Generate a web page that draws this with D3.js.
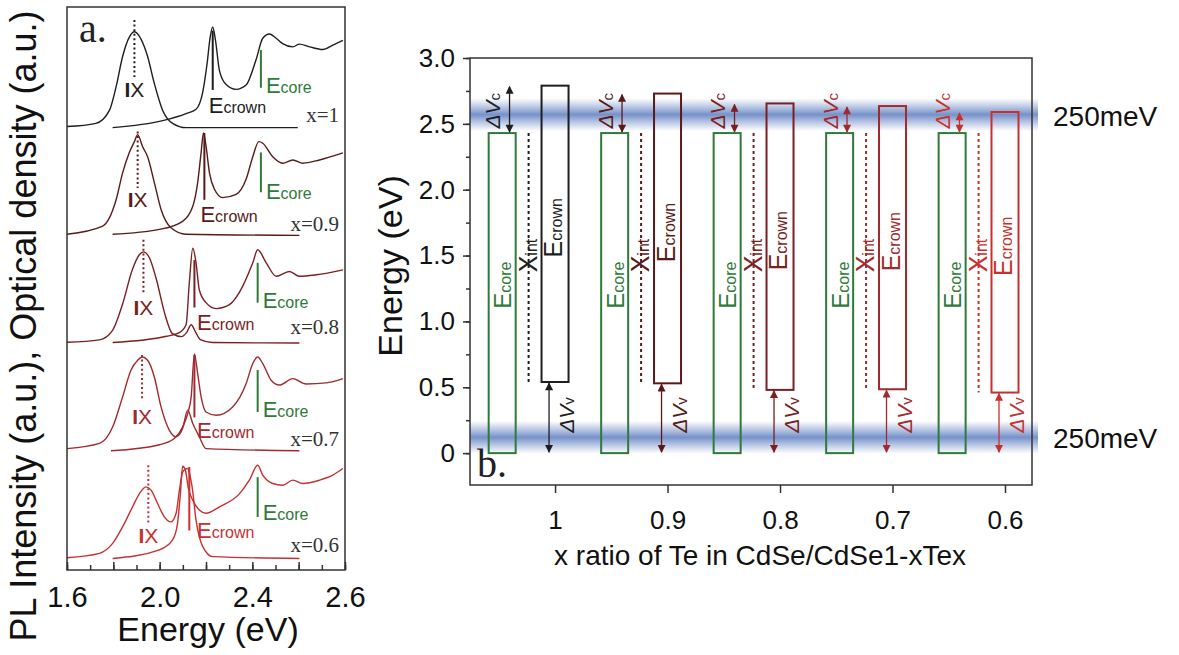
<!DOCTYPE html>
<html><head><meta charset="utf-8">
<script src="https://cdn.jsdelivr.net/npm/d3@7"></script>
<style>
body{margin:0;background:#fff}
svg{display:block}
text{font-family:"Liberation Sans",Arial,Helvetica,sans-serif}
.serif{font-family:"Liberation Serif","Times New Roman",serif}
</style>
</head><body>
<svg id="c" width="1179" height="655"></svg>
<script>
// ---------------- DATA ----------------
const xRatio = [1, 0.9, 0.8, 0.7, 0.6];
const sampleLabels = ["x=1", "x=0.9", "x=0.8", "x=0.7", "x=0.6"];
const groupColors = ["#1e1e1e", "#5a1a1a", "#7a1f22", "#a2292d", "#c8302f"];
const coreColor = "#2f7a38";

// Panel a: spectra [energy eV, intensity a.u.]
const energyTicksA = [1.6, 2.0, 2.4, 2.8];
const energyTickLabelsA = ["1.6", "2.0", "2.4", "2.6"];

const pl_1 = [[1.60,0.01],[1.725,0.04],[1.783,0.16],[1.812,0.38],[1.840,0.66],[1.869,0.84],[1.891,0.89],[1.920,0.82],[1.948,0.66],[1.977,0.41],[2.013,0.16],[2.056,0.04],[2.114,0.0],[2.596,0]];
const od_1 = [[1.797,0],[2.013,0.065],[2.114,0.13],[2.157,0.17],[2.185,0.32],[2.205,0.6],[2.218,0.84],[2.229,0.935],[2.241,0.81],[2.258,0.53],[2.287,0.40],[2.330,0.355],[2.373,0.395],[2.416,0.63],[2.445,0.83],[2.474,0.87],[2.503,0.83],[2.531,0.78],[2.575,0.75],[2.603,0.775],[2.647,0.75],[2.704,0.725],[2.747,0.765],[2.791,0.81]];

const pl_09 = [[1.60,0.01],[1.754,0.086],[1.812,0.33],[1.840,0.58],[1.869,0.77],[1.891,0.87],[1.905,0.935],[1.927,0.82],[1.948,0.73],[1.977,0.49],[2.006,0.24],[2.049,0.07],[2.114,0.01],[2.603,0]];
const od_09 = [[1.797,0.01],[1.999,0.055],[2.099,0.13],[2.143,0.27],[2.164,0.49],[2.179,0.77],[2.189,0.95],[2.200,0.83],[2.215,0.58],[2.236,0.43],[2.272,0.35],[2.330,0.38],[2.373,0.52],[2.402,0.73],[2.428,0.87],[2.445,0.855],[2.488,0.73],[2.531,0.67],[2.575,0.70],[2.618,0.67],[2.690,0.70],[2.791,0.765]];

const pl_08 = [[1.60,0.007],[1.740,0.03],[1.796,0.115],[1.839,0.356],[1.882,0.68],[1.912,0.82],[1.930,0.847],[1.956,0.79],[1.986,0.59],[2.021,0.28],[2.055,0.088],[2.094,0.06],[2.116,0.097],[2.136,0.17],[2.154,0.106],[2.176,0.032],[2.228,0.005],[2.603,0]];
const od_08 = [[1.797,0.005],[2.029,0.063],[2.085,0.097],[2.114,0.17],[2.128,0.56],[2.143,0.88],[2.157,0.745],[2.171,0.495],[2.200,0.375],[2.244,0.32],[2.301,0.356],[2.344,0.47],[2.402,0.745],[2.423,0.866],[2.460,0.745],[2.503,0.62],[2.560,0.665],[2.603,0.62],[2.676,0.634],[2.791,0.68]];

const pl_07 = [[1.60,0.02],[1.740,0.068],[1.797,0.22],[1.840,0.5],[1.876,0.747],[1.905,0.84],[1.924,0.87],[1.948,0.84],[1.977,0.685],[2.006,0.407],[2.042,0.19],[2.071,0.13],[2.099,0.206],[2.121,0.377],[2.143,0.253],[2.171,0.13],[2.200,0.02],[2.603,0]];
const od_07 = [[1.790,0],[1.999,0.056],[2.063,0.114],[2.099,0.22],[2.121,0.345],[2.136,0.5],[2.150,0.9],[2.164,0.716],[2.179,0.5],[2.200,0.36],[2.244,0.33],[2.315,0.407],[2.373,0.623],[2.402,0.81],[2.423,0.87],[2.445,0.81],[2.481,0.655],[2.517,0.61],[2.575,0.67],[2.632,0.62],[2.719,0.63],[2.791,0.67]];

const pl_06 = [[1.60,0.007],[1.740,0.048],[1.797,0.14],[1.840,0.294],[1.883,0.48],[1.912,0.6],[1.941,0.665],[1.963,0.634],[1.991,0.51],[2.020,0.387],[2.049,0.34],[2.071,0.42],[2.085,0.63],[2.099,0.8],[2.111,0.83],[2.121,0.835],[2.131,0.77],[2.140,0.665],[2.157,0.356],[2.186,0.11],[2.229,0.017],[2.603,0]];
const od_06 = [[1.797,0],[1.999,0.08],[2.055,0.17],[2.076,0.31],[2.089,0.59],[2.099,0.856],[2.111,0.82],[2.124,0.65],[2.143,0.54],[2.171,0.45],[2.200,0.42],[2.258,0.48],[2.344,0.6],[2.387,0.727],[2.423,0.866],[2.445,0.773],[2.488,0.696],[2.531,0.68],[2.575,0.727],[2.618,0.696],[2.690,0.727],[2.747,0.773],[2.791,0.835]];

const plSpectra = [pl_1, pl_09, pl_08, pl_07, pl_06];
const odSpectra = [od_1, od_09, od_08, od_07, od_06];
const ixEnergy = [1.891, 1.905, 1.930, 1.924, 1.951];
const crownPeakEnergy = [2.229, 2.193, 2.150, 2.150, 2.128];
const corePeakEnergy = [2.437, 2.437, 2.423, 2.423, 2.423];

// Panel b: band alignment energies (eV)
const xTicksB = [1, 0.9, 0.8, 0.7, 0.6];
const xTickLabelsB = ["1", "0.9", "0.8", "0.7", "0.6"];
const yTicksB = [0, 0.5, 1.0, 1.5, 2.0, 2.5, 3.0];
const yTickLabelsB = ["0", "0.5", "1.0", "1.5", "2.0", "2.5", "3.0"];
const coreTop = [2.43, 2.43, 2.43, 2.43, 2.43];
const coreBottom = [0, 0, 0, 0, 0];
const crownTop = [2.79, 2.73, 2.655, 2.635, 2.59];
const crownBottom = [0.54, 0.53, 0.48, 0.485, 0.46];
const bandCenters = [2.57, 0.12];
const bandWidth = 0.25;
const bandLabels = ["250meV", "250meV"];

// ---------------- DRAW ----------------
const svg = d3.select("#c");
const defs = svg.append("defs");

// ===== Panel a =====
const xA = d3.scaleLinear().domain([1.6, 2.8]).range([67, 345]);
const yA = d3.scaleLinear().domain([-0.107, 5.12]).range([570, 7]);
const gA = svg.append("g");

const lineA = d3.line().x(d => xA(d[0])).y(d => yA(d[1])).curve(d3.curveMonotoneX);
const layA = {
  ixTop: [1.0, 0.965, 0.96, 0.89, 0.866], ixBot: [0.47, 0.44, 0.47, 0.47, 0.31], ixText: [0.28, 0.26, 0.26, 0.25, 0.14],
  crTop: [0.9, 0.95, 0.77, 0.89, 0.85], crBot: [0.35, 0.33, 0.33, 0.31, 0.26], crText: [0.136, 0.12, 0.125, 0.12, 0.19],
  coTop: [0.72, 0.77, 0.745, 0.75, 0.755], coBot: [0.37, 0.4, 0.375, 0.36, 0.385], coText: [0.32, 0.34, 0.33, 0.31, 0.356],
  lab: [0.05, 0.04, 0.08, 0.04, 0.06]
};

xRatio.forEach((xr, i) => {
  const off = 4 - i;
  const col = groupColors[i];
  const shift = d => d.map(p => [p[0], p[1] + off]);
  gA.append("path").attr("d", lineA(shift(odSpectra[i]))).attr("fill", "none").attr("stroke", col).attr("stroke-width", 1.4);
  gA.append("path").attr("d", lineA(shift(plSpectra[i]))).attr("fill", "none").attr("stroke", col).attr("stroke-width", 1.4);
  // IX marker
  gA.append("line").attr("x1", xA(ixEnergy[i])).attr("x2", xA(ixEnergy[i]))
    .attr("y1", yA(off + layA.ixTop[i])).attr("y2", yA(off + layA.ixBot[i]))
    .attr("stroke", col).attr("stroke-width", 2).attr("stroke-dasharray", "2,2.6");
  const ix = gA.append("text").attr("x", xA(ixEnergy[i])).attr("y", yA(off + layA.ixText[i]))
    .attr("text-anchor", "middle").attr("font-size", 21).attr("fill", col);
  ix.append("tspan").attr("font-weight", "bold").text("I");
  ix.append("tspan").text("X");
  // crown marker
  gA.append("line").attr("x1", xA(crownPeakEnergy[i])).attr("x2", xA(crownPeakEnergy[i]))
    .attr("y1", yA(off + layA.crTop[i])).attr("y2", yA(off + layA.crBot[i]))
    .attr("stroke", col).attr("stroke-width", 2);
  const ec = gA.append("text").attr("x", Math.max(xA(crownPeakEnergy[i]) - 4, 197)).attr("y", yA(off + layA.crText[i]))
    .attr("fill", col);
  ec.append("tspan").attr("font-size", 22).text("E");
  ec.append("tspan").attr("font-size", 16).text("crown");
  // core marker
  gA.append("line").attr("x1", xA(corePeakEnergy[i])).attr("x2", xA(corePeakEnergy[i]))
    .attr("y1", yA(off + layA.coTop[i])).attr("y2", yA(off + layA.coBot[i]))
    .attr("stroke", coreColor).attr("stroke-width", 2);
  const eo = gA.append("text").attr("x", xA(corePeakEnergy[i]) + 5).attr("y", yA(off + layA.coText[i]))
    .attr("fill", coreColor);
  eo.append("tspan").attr("font-size", 22).text("E");
  eo.append("tspan").attr("font-size", 16).text("core");
  // sample label
  gA.append("text").attr("class", "serif").attr("x", 339).attr("y", yA(off + layA.lab[i]))
    .attr("text-anchor", "end").attr("font-size", 21).attr("fill", "#333").text(sampleLabels[i]);
});

// frame a
gA.append("rect").attr("x", xA.range()[0]).attr("y", yA.range()[1])
  .attr("width", xA.range()[1] - xA.range()[0]).attr("height", yA.range()[0] - yA.range()[1])
  .attr("fill", "none").attr("stroke", "#333").attr("stroke-width", 1.5);

const axA1 = gA.append("g").attr("transform", `translate(0,${yA.range()[0]})`)
  .call(d3.axisBottom(xA).tickValues(d3.range(16, 29).map(d => d / 10)).tickSize(-5).tickFormat(""));
const axA2 = gA.append("g").attr("transform", `translate(0,${yA.range()[0]})`)
  .call(d3.axisBottom(xA).tickValues(d3.range(8, 15).map(d => d / 5)).tickSize(-8).tickFormat(""));
const axA3 = gA.append("g").attr("transform", `translate(0,${yA.range()[0]})`)
  .call(d3.axisBottom(xA).tickValues(energyTicksA).tickSize(0).tickPadding(16)
    .tickFormat((d, i) => energyTickLabelsA[i]));
[axA1, axA2, axA3].forEach(a => { a.select(".domain").remove(); a.selectAll("line").attr("stroke", "#333").attr("stroke-width", 1.5); });
axA3.selectAll("text").attr("font-size", 29).attr("fill", "#111").attr("font-family", '"Liberation Sans",Arial,sans-serif');

gA.append("text").attr("x", (xA.range()[0] + xA.range()[1]) / 2 + 2).attr("y", 641).attr("text-anchor", "middle")
  .attr("font-size", 34).attr("fill", "#111").text("Energy (eV)");
gA.append("text").attr("transform", "translate(36,326) rotate(-90)").attr("text-anchor", "middle")
  .attr("font-size", 36).attr("fill", "#111").text("PL Intensity (a.u.), Optical density (a.u.)");
gA.append("text").attr("class", "serif").attr("x", 79).attr("y", 42).attr("font-size", 40).attr("fill", "#222").text("a.");

// ===== Panel b =====
const xB = d3.scaleLinear().domain([1.0756, 0.576]).range([470, 1032]);
const yB = d3.scaleLinear().domain([-0.242, 3.0]).range([485, 58]);
const gB = svg.append("g");

const grad = defs.append("linearGradient").attr("id", "bandGrad").attr("x1", 0).attr("y1", 0).attr("x2", 0).attr("y2", 1);
[[0, 0], [0.25, 0.45], [0.5, 0.95], [0.75, 0.45], [1, 0]].forEach(s =>
  grad.append("stop").attr("offset", s[0]).attr("stop-color", "#6f8cc7").attr("stop-opacity", s[1]));

bandCenters.forEach((c, k) => {
  gB.append("rect").attr("x", xB.range()[0]).attr("width", xB.range()[1] - xB.range()[0] + 6)
    .attr("y", yB(c + bandWidth / 2)).attr("height", yB(c - bandWidth / 2) - yB(c + bandWidth / 2))
    .attr("fill", "url(#bandGrad)");
  gB.append("text").attr("x", 1053).attr("y", yB(c) + 11).attr("font-size", 28).attr("fill", "#111").text(bandLabels[k]);
});

// arrow markers
groupColors.forEach((col, i) => {
  defs.append("marker").attr("id", "arr" + i).attr("viewBox", "0 0 10 10").attr("refX", 9).attr("refY", 5)
    .attr("markerWidth", 9).attr("markerHeight", 8).attr("markerUnits", "userSpaceOnUse")
    .attr("orient", "auto-start-reverse")
    .append("path").attr("d", "M0,0 L10,5 L0,10 z").attr("fill", col);
});

const rectW = 27, coreShift = 0.047, xintShift = 0.0235;
xRatio.forEach((xr, i) => {
  const col = groupColors[i];
  const xc = xB(xr);
  const xcore = xB(xr + coreShift);
  const xint = xB(xr + xintShift);
  // core rect
  gB.append("rect").attr("x", xcore - rectW / 2).attr("width", rectW)
    .attr("y", yB(coreTop[i])).attr("height", yB(coreBottom[i]) - yB(coreTop[i]))
    .attr("fill", "none").attr("stroke", coreColor).attr("stroke-width", 2);
  // crown rect
  gB.append("rect").attr("x", xc - rectW / 2).attr("width", rectW)
    .attr("y", yB(crownTop[i])).attr("height", yB(crownBottom[i]) - yB(crownTop[i]))
    .attr("fill", "none").attr("stroke", col).attr("stroke-width", 2);
  // Xint dotted line
  gB.append("line").attr("x1", xint).attr("x2", xint).attr("y1", yB(coreTop[i])).attr("y2", yB(crownBottom[i]))
    .attr("stroke", col).attr("stroke-width", 2).attr("stroke-dasharray", "3,3");
  // dVc arrow
  gB.append("line").attr("x1", xc - 45.5).attr("x2", xc - 45.5).attr("y1", yB(coreTop[i]) - 1).attr("y2", yB(crownTop[i]) + 1)
    .attr("stroke", col).attr("stroke-width", 1.3)
    .attr("marker-start", `url(#arr${i})`).attr("marker-end", `url(#arr${i})`);
  // dVv arrow
  gB.append("line").attr("x1", xc - 6).attr("x2", xc - 6).attr("y1", yB(crownBottom[i]) + 1).attr("y2", yB(coreBottom[i]) - 1)
    .attr("stroke", col).attr("stroke-width", 1.3)
    .attr("marker-start", `url(#arr${i})`).attr("marker-end", `url(#arr${i})`);
  // labels
  const lc = gB.append("text").attr("transform", `translate(${xcore + 9},${yB(1.275)}) rotate(-90)`)
    .attr("text-anchor", "middle").attr("fill", coreColor);
  lc.append("tspan").attr("font-size", 24).text("E");
  lc.append("tspan").attr("font-size", 16).text("core");

  const mid = (crownTop[i] + crownBottom[i]) / 2;
  const lr = gB.append("text").attr("transform", `translate(${xc + 7},${yB(mid) - 6}) rotate(-90)`)
    .attr("text-anchor", "middle").attr("fill", col);
  lr.append("tspan").attr("font-size", 25).text("E");
  lr.append("tspan").attr("font-size", 16).text("crown");

  const lx = gB.append("text").attr("transform", `translate(${xint + 8},${yB(1.5)}) rotate(-90)`)
    .attr("text-anchor", "middle").attr("fill", col);
  lx.append("tspan").attr("font-size", 25).text("X");
  lx.append("tspan").attr("font-size", 16).text("int");

  const lvc = gB.append("text").attr("transform", `translate(${xc - 55},${yB(2.6)}) rotate(-90)`)
    .attr("text-anchor", "middle").attr("fill", col);
  lvc.append("tspan").attr("font-size", 21).attr("font-style", "italic").text("ΔV");
  lvc.append("tspan").attr("font-size", 15).text("c");

  const lvv = gB.append("text").attr("transform", `translate(${xc + 19},${yB(0.29)}) rotate(-90)`)
    .attr("text-anchor", "middle").attr("fill", col);
  lvv.append("tspan").attr("font-size", 21).attr("font-style", "italic").text("ΔV");
  lvv.append("tspan").attr("font-size", 15).text("v");
});

// frame b
gB.append("rect").attr("x", xB.range()[0]).attr("y", yB.range()[1])
  .attr("width", xB.range()[1] - xB.range()[0]).attr("height", yB.range()[0] - yB.range()[1])
  .attr("fill", "none").attr("stroke", "#333").attr("stroke-width", 1.5);

const axB1 = gB.append("g").attr("transform", `translate(${xB.range()[0]},0)`)
  .call(d3.axisLeft(yB).tickValues(d3.range(0, 13).map(d => d / 4)).tickSize(4).tickFormat(""));
const axB2 = gB.append("g").attr("transform", `translate(${xB.range()[0]},0)`)
  .call(d3.axisLeft(yB).tickValues(yTicksB).tickSize(7).tickPadding(8).tickFormat((d, i) => yTickLabelsB[i]));
const axB3 = gB.append("g").attr("transform", `translate(0,${yB.range()[0]})`)
  .call(d3.axisBottom(xB).tickValues(xTicksB).tickSize(8).tickPadding(18).tickFormat((d, i) => xTickLabelsB[i]));
[axB1, axB2, axB3].forEach(a => { a.select(".domain").remove(); a.selectAll("line").attr("stroke", "#333").attr("stroke-width", 1.5); });
[axB2, axB3].forEach(a => a.selectAll("text").attr("font-size", 26).attr("fill", "#111").attr("font-family", '"Liberation Sans",Arial,sans-serif'));

gB.append("text").attr("x", 760).attr("y", 565).attr("text-anchor", "middle").attr("font-size", 28).attr("fill", "#111")
  .text("x ratio of Te in CdSe/CdSe1-xTex");
gB.append("text").attr("transform", "translate(402,266) rotate(-90)").attr("text-anchor", "middle")
  .attr("font-size", 34).attr("fill", "#111").text("Energy (eV)");
gB.append("text").attr("class", "serif").attr("x", 477).attr("y", 477).attr("font-size", 40).attr("fill", "#222").text("b.");
</script>
</body></html>
